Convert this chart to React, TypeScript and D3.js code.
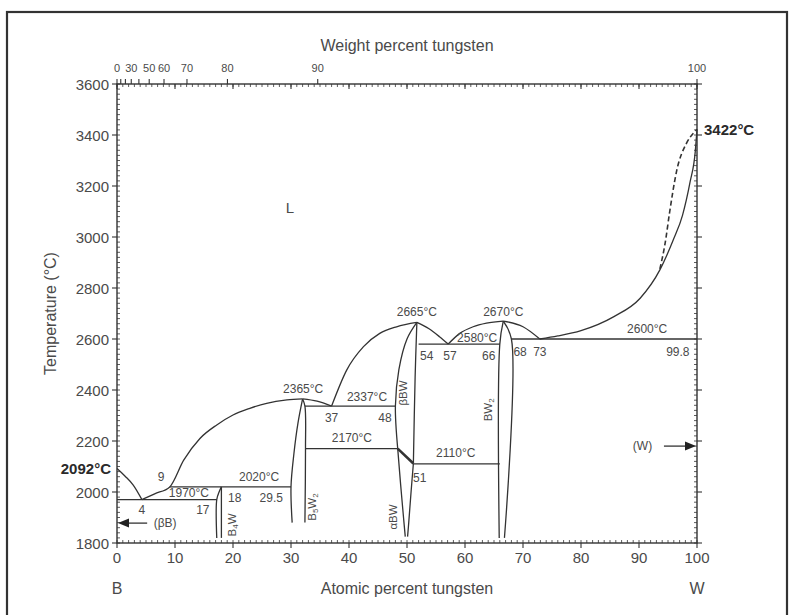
import React from "react";
import * as d3 from "d3";

// ---- data (atomic % W, °C) ----
const liqB = [[0, 2092], [1.4, 2062], [2.8, 2027], [4.3, 1970]];
const liqA = [[4.3, 1970], [6.5, 1993], [9.1, 2020], [11.5, 2125], [14.3, 2210], [17.2, 2263], [20, 2302], [22.9, 2328], [25.8, 2348], [29.3, 2361], [32, 2365]];
const liqC = [[32, 2365], [34.5, 2356], [37, 2337]];
const liqD = [[37, 2337], [39.6, 2478], [42.5, 2570], [45.3, 2622], [48.2, 2648], [51.7, 2665]];
const liqE = [[51.7, 2665], [53.8, 2640], [55.6, 2609], [57.1, 2580]];
const liqF = [[57.1, 2580], [59.1, 2622], [61.4, 2648], [63.7, 2662], [66.6, 2670]];
const liqG = [[66.6, 2670], [70, 2648], [72.9, 2600]];
const liqH = [[72.9, 2600], [76, 2612], [80, 2633], [85.6, 2687], [90.2, 2760], [93.6, 2871], [95.9, 2988], [97.5, 3085], [98.8, 3215], [99.7, 3335], [100, 3422]];
const liqDashed = [[93.6, 2875], [94.5, 2975], [95.3, 3100], [96.5, 3260], [98.2, 3368], [99.5, 3410], [100, 3422]];

const isotherms = [
  [0, 17.2, 1970],
  [9.1, 30, 2020],
  [32.4, 48, 2337],
  [32.5, 48.4, 2170],
  [51.1, 66, 2110],
  [52, 66, 2580],
  [68, 100, 2600],
];

const boundaries = [
  [[17.2, 1820], [17.2, 1970], [17.6, 2000], [18, 2020]],
  [[18, 1820], [18, 2020]],
  [[30.2, 1880], [30, 2020], [30.5, 2150], [31.2, 2270], [32, 2365]],
  [[32.4, 1880], [32.5, 2170], [32.4, 2337], [32, 2365]],
  [[48.4, 2170], [48, 2337], [48.6, 2480], [50, 2600], [51.7, 2665]],
  [[48.4, 2170], [48.9, 2030], [49.4, 1900], [49.7, 1825]],
  [[51.1, 2112], [50.7, 2000], [50.3, 1880], [50.1, 1825]],
  [[51.7, 2665], [51.4, 2450], [51.1, 2112]],
  [[66.6, 2670], [66, 2580], [65.9, 1820]],
  [[66.6, 2670], [68, 2600], [66.8, 1820]],
];
const diagonal = [[48.4, 2170], [51.1, 2112]];

const meltB = 2092;
const meltW = 3422;

// weight % tick values on top axis
const wtTicks = [0, 10, 20, 30, 40, 50, 60, 70, 80, 90, 100];
const wtLabels = [0, 30, 50, 60, 70, 80, 90, 100];
const atTicks = [0, 10, 20, 30, 40, 50, 60, 70, 80, 90, 100];
const tempTicks = [1800, 2000, 2200, 2400, 2600, 2800, 3000, 3200, 3400, 3600];

// annotations: [text, at%, °C]
const notes: [string, number, number][] = [
  ["2365°C", 32.1, 2404], ["2337°C", 43.1, 2373], ["37", 37, 2290], ["48", 46.2, 2290],
  ["2170°C", 40.5, 2212], ["2110°C", 58.4, 2153], ["51", 52.2, 2055],
  ["2665°C", 51.7, 2706], ["2670°C", 66.6, 2706], ["2580°C", 62.1, 2604],
  ["54", 53.4, 2533], ["57", 57.4, 2533], ["66", 64.1, 2533],
  ["68", 69.5, 2549], ["73", 72.9, 2549], ["2600°C", 91.4, 2639], ["99.8", 96.7, 2549],
  ["(W)", 90.6, 2180], ["9", 7.6, 2059], ["4", 4.3, 1929], ["17", 14.8, 1929],
  ["18", 20.3, 1976], ["29.5", 26.6, 1976], ["1970°C", 12.4, 1996], ["2020°C", 24.5, 2059],
  ["(βB)", 8.3, 1878],
];
// rotated phase labels: [main parts], at%, °C
const phases: [string[][], number, number][] = [
  [[["B", ""], ["4", "s"], ["W", ""]], 19.8, 1871],
  [[["B", ""], ["5", "s"], ["W", ""], ["2", "s"]], 33.6, 1941],
  [[["αBW", ""]], 47.6, 1902],
  [[["βBW", ""]], 49.3, 2388],
  [[["BW", ""], ["2", "s"]], 64, 2322],
];

const wtToAt = (w: number) => {
  if (w >= 100) return 100;
  const a = w / 183.84, b = (100 - w) / 10.81;
  return (100 * a) / (a + b);
};

export default function App() {
  const x = d3.scaleLinear().domain([0, 100]).range([117, 697]);
  const y = d3.scaleLinear().domain([1800, 3600]).range([543, 84]);
  const line = d3.line<number[]>().x((d) => x(d[0])).y((d) => y(d[1])).curve(d3.curveMonotoneX);
  const poly = d3.line<number[]>().x((d) => x(d[0])).y((d) => y(d[1])).curve(d3.curveCatmullRom.alpha(0.5));
  const ink = "#333";
  const txt = "#4a4a4a";
  const font = "'Liberation Sans', Arial, sans-serif";
  const x0 = x(0), x1 = x(100), yT = y(3600), yB = y(1800);
  const minorT = d3.range(1800, 3601, 20);
  const minorA = d3.range(0, 101, 1);

  return (
    <svg width={792} height={615} style={{ position: "absolute", left: 0, top: 0, background: "#fff" }} fontFamily={font}>
      <rect x={0} y={0} width={792} height={615} fill="#fff" />
      {/* outer frame */}
      <rect x={7} y={12} width={780} height={620} fill="none" stroke="#333" strokeWidth={2.2} />

      {/* axes box */}
      <rect x={x0} y={yT} width={x1 - x0} height={yB - yT} fill="none" stroke={ink} strokeWidth={1.4} />

      {/* left & right minor ticks */}
      {minorT.map((t) => (
        <g key={"mt" + t}>
          <line x1={x0} x2={x0 + 3} y1={y(t)} y2={y(t)} stroke={ink} strokeWidth={0.8} />
          <line x1={x1} x2={x1 - 3} y1={y(t)} y2={y(t)} stroke={ink} strokeWidth={0.8} />
        </g>
      ))}
      {tempTicks.map((t) => (
        <g key={"tt" + t}>
          <line x1={x0 - 5} x2={x0} y1={y(t)} y2={y(t)} stroke={ink} strokeWidth={1.1} />
          <line x1={x1} x2={x1 + 5} y1={y(t)} y2={y(t)} stroke={ink} strokeWidth={1.1} />
          <text x={x0 - 8} y={y(t)} textAnchor="end" dominantBaseline="central" fontSize={15} fill={txt}>{t}</text>
        </g>
      ))}
      {/* bottom & top minor */}
      {minorA.map((a) => (
        <g key={"ma" + a}>
          <line x1={x(a)} x2={x(a)} y1={yB} y2={yB - 3} stroke={ink} strokeWidth={0.8} />
          <line x1={x(a)} x2={x(a)} y1={yT} y2={yT + 3} stroke={ink} strokeWidth={0.8} />
        </g>
      ))}
      {atTicks.map((a) => (
        <g key={"at" + a}>
          <line x1={x(a)} x2={x(a)} y1={yB} y2={yB + 5} stroke={ink} strokeWidth={1.1} />
          <line x1={x(a)} x2={x(a)} y1={yT} y2={yT + 5} stroke={ink} strokeWidth={1.1} />
          <text x={x(a)} y={yB + 20} textAnchor="middle" fontSize={15} fill={txt}>{a}</text>
        </g>
      ))}
      {wtTicks.map((w) => (
        <line key={"wt" + w} x1={x(wtToAt(w))} x2={x(wtToAt(w))} y1={yT} y2={yT - 5} stroke={ink} strokeWidth={1.1} />
      ))}
      {wtLabels.map((w) => (
        <text key={"wl" + w} x={x(wtToAt(w))} y={yT - 12} textAnchor="middle" fontSize={11} fill={txt}>{w}</text>
      ))}

      {/* axis titles */}
      <text x={407} y={51} textAnchor="middle" fontSize={16} fill={txt}>Weight percent tungsten</text>
      <text x={407} y={594} textAnchor="middle" fontSize={16} fill={txt}>Atomic percent tungsten</text>
      <text x={x0} y={594} textAnchor="middle" fontSize={16} fill={txt}>B</text>
      <text x={x1} y={594} textAnchor="middle" fontSize={16} fill={txt}>W</text>
      <text transform={`translate(56,${(yT + yB) / 2}) rotate(-90)`} textAnchor="middle" fontSize={16} fill={txt}>Temperature (°C)</text>

      {/* melting points */}
      <text x={x0 - 6} y={y(meltB)} textAnchor="end" dominantBaseline="central" fontSize={15} fontWeight="bold" fill="#2a2a2a">{meltB}°C</text>
      <text x={x1 + 7} y={y(meltW)} dominantBaseline="central" fontSize={15} fontWeight="bold" fill="#2a2a2a">{meltW}°C</text>

      {/* curves */}
      <g fill="none" stroke={ink} strokeWidth={1.3}>
        {[liqB, liqA, liqC, liqD, liqE, liqF, liqG, liqH].map((d, i) => (
          <path key={"l" + i} d={line(d) || ""} />
        ))}
        <path d={line(liqDashed) || ""} strokeDasharray="5,3" strokeWidth={1.6} />
        {isotherms.map((d, i) => (
          <line key={"iso" + i} x1={x(d[0])} x2={x(d[1])} y1={y(d[2])} y2={y(d[2])} />
        ))}
        {boundaries.map((d, i) => (
          <path key={"b" + i} d={poly(d) || ""} />
        ))}
        <path d={poly(diagonal) || ""} strokeWidth={2.6} />
      </g>

      {/* arrows */}
      <line x1={x(5.2)} x2={x(0) + 8} y1={y(1878)} y2={y(1878)} stroke={ink} strokeWidth={1.3} />
      <path d={`M${x(0) + 1},${y(1878)} l11,-4.5 l0,9 z`} fill="#222" />
      <line x1={x(94.3)} x2={x(100) - 8} y1={y(2180)} y2={y(2180)} stroke={ink} strokeWidth={1.3} />
      <path d={`M${x(100) - 1},${y(2180)} l-11,-4.5 l0,9 z`} fill="#222" />

      {/* labels */}
      <text x={x(29.8)} y={y(3114)} textAnchor="middle" dominantBaseline="central" fontSize={15} fill={txt}>L</text>
      {notes.map(([t, a, c], i) => (
        <text key={"n" + i} x={x(a)} y={y(c)} textAnchor="middle" dominantBaseline="central" fontSize={12} fill={txt}>{t}</text>
      ))}
      {phases.map(([parts, a, c], i) => (
        <text key={"p" + i} transform={`translate(${x(a)},${y(c)}) rotate(-90)`} textAnchor="middle" dominantBaseline="central" fontSize={11.5} fill={txt}>
          {parts.map(([s, k], j) => (
            <tspan key={j} fontSize={k ? 8 : 11.5} dy={k ? 3 : j > 0 && parts[j - 1][1] ? -3 : 0}>{s}</tspan>
          ))}
        </text>
      ))}
    </svg>
  );
}
